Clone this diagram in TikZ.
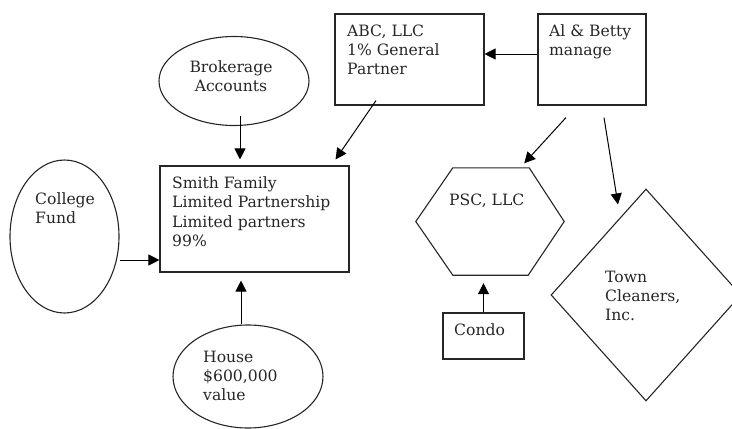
\documentclass[tikz,border=0pt]{standalone}
\usepackage{fontspec}
\setmainfont{DejaVu Serif}
\usetikzlibrary{shapes.geometric,arrows.meta}
\tikzset{
  shapeline/.style={draw=black!85, line width=1.1pt},
  boxnode/.style={shapeline, rectangle, inner sep=0pt},
  ellnode/.style={shapeline, ellipse, inner sep=0pt},
  txt/.style={inner sep=0pt, anchor=north west, align=left, font=\fontsize{15.6}{19.3}\selectfont, text=black!85},
  arr/.style={draw=black, line width=1pt, -{Triangle[length=11pt,width=11pt]}}
}
\begin{document}
\begin{tikzpicture}[x=1pt,y=-1pt]
\useasboundingbox (0,0) rectangle (732,429);
% shapes
\node[boxnode, minimum width=189pt, minimum height=106pt] (smith) at (254.5,219) {};
\node[boxnode, minimum width=149pt, minimum height=91pt] (abc) at (409.5,59.5) {};
\node[boxnode, minimum width=108pt, minimum height=91pt] (al) at (592,59.5) {};
\node[boxnode, minimum width=81pt, minimum height=46pt] (condo) at (483.5,336) {};
\node[ellnode, minimum width=150pt, minimum height=89pt] (brk) at (234,81) {};
\node[ellnode, minimum width=109pt, minimum height=153pt] (college) at (64.5,236.5) {};
\node[ellnode, minimum width=150pt, minimum height=103pt] (house) at (248,376.5) {};
\node[inner sep=0pt, minimum width=148pt, minimum height=107pt] (psc) at (490,221.5) {};
\draw[shapeline] (psc.west) -- ([xshift=37pt]psc.north west) -- ([xshift=-35pt]psc.north east)
  -- (psc.east) -- ([xshift=-36pt]psc.south east) -- ([xshift=37pt]psc.south west) -- cycle;
\node[shapeline, diamond, inner sep=0pt, minimum width=190pt, minimum height=212pt] (town) at (646,295) {};
% texts
\node[txt] (tsmith) at (172,176.5) {Smith Family\\Limited Partnership\\Limited partners\\99\%};
\node[txt] (tabc) at (347,24.5) {ABC, LLC\\1\% General\\Partner};
\node[txt] (tal) at (549,24.5) {Al \& Betty\\manage};
\node[txt, align=center, anchor=north] (tbrk) at (231,60.5) {Brokerage\\Accounts};
\node[txt] (tcol) at (35,192.5) {College\\Fund};
\node[txt] (thouse) at (203,350.5) {House\\\$600,000\\value};
\node[txt] (tpsc) at (449,193.5) {PSC, LLC};
\node[txt] (tcondo) at (454,323.5) {Condo};
\node[txt] (ttown) at (605,270.5) {Town\\Cleaners,\\Inc.};
% connectors
\draw[arr, shorten <=-10.5pt, shorten >=6pt] ([xshift=6pt]brk.south) -- ([xshift=6pt]brk.south |- smith.north);
\draw[arr] ([xshift=-33.5pt,yshift=5pt]abc.south) -- ([xshift=-14pt,yshift=6pt]smith.north east);
\draw[arr] ([yshift=-23.5pt]college.east) -- ([yshift=-23.5pt]college.east -| smith.west);
\draw[arr, shorten >=8pt] ([xshift=-7pt]house.north) -- ([xshift=-7pt]house.north |- smith.south);
\draw[arr] ([yshift=5.5pt]al.west) -- ([yshift=5.5pt]al.west -| abc.east);
\draw[arr] ([xshift=-26pt,yshift=-12pt]al.south) -- ([xshift=-40pt,yshift=4.5pt]psc.north east);
\draw[arr] ([xshift=12pt,yshift=-12pt]al.south) -- ([xshift=-28pt,yshift=-16pt]town.north);
\draw[arr, shorten >=8pt] (condo.north) -- (condo.north |- psc.south);
\end{tikzpicture}
\end{document}
